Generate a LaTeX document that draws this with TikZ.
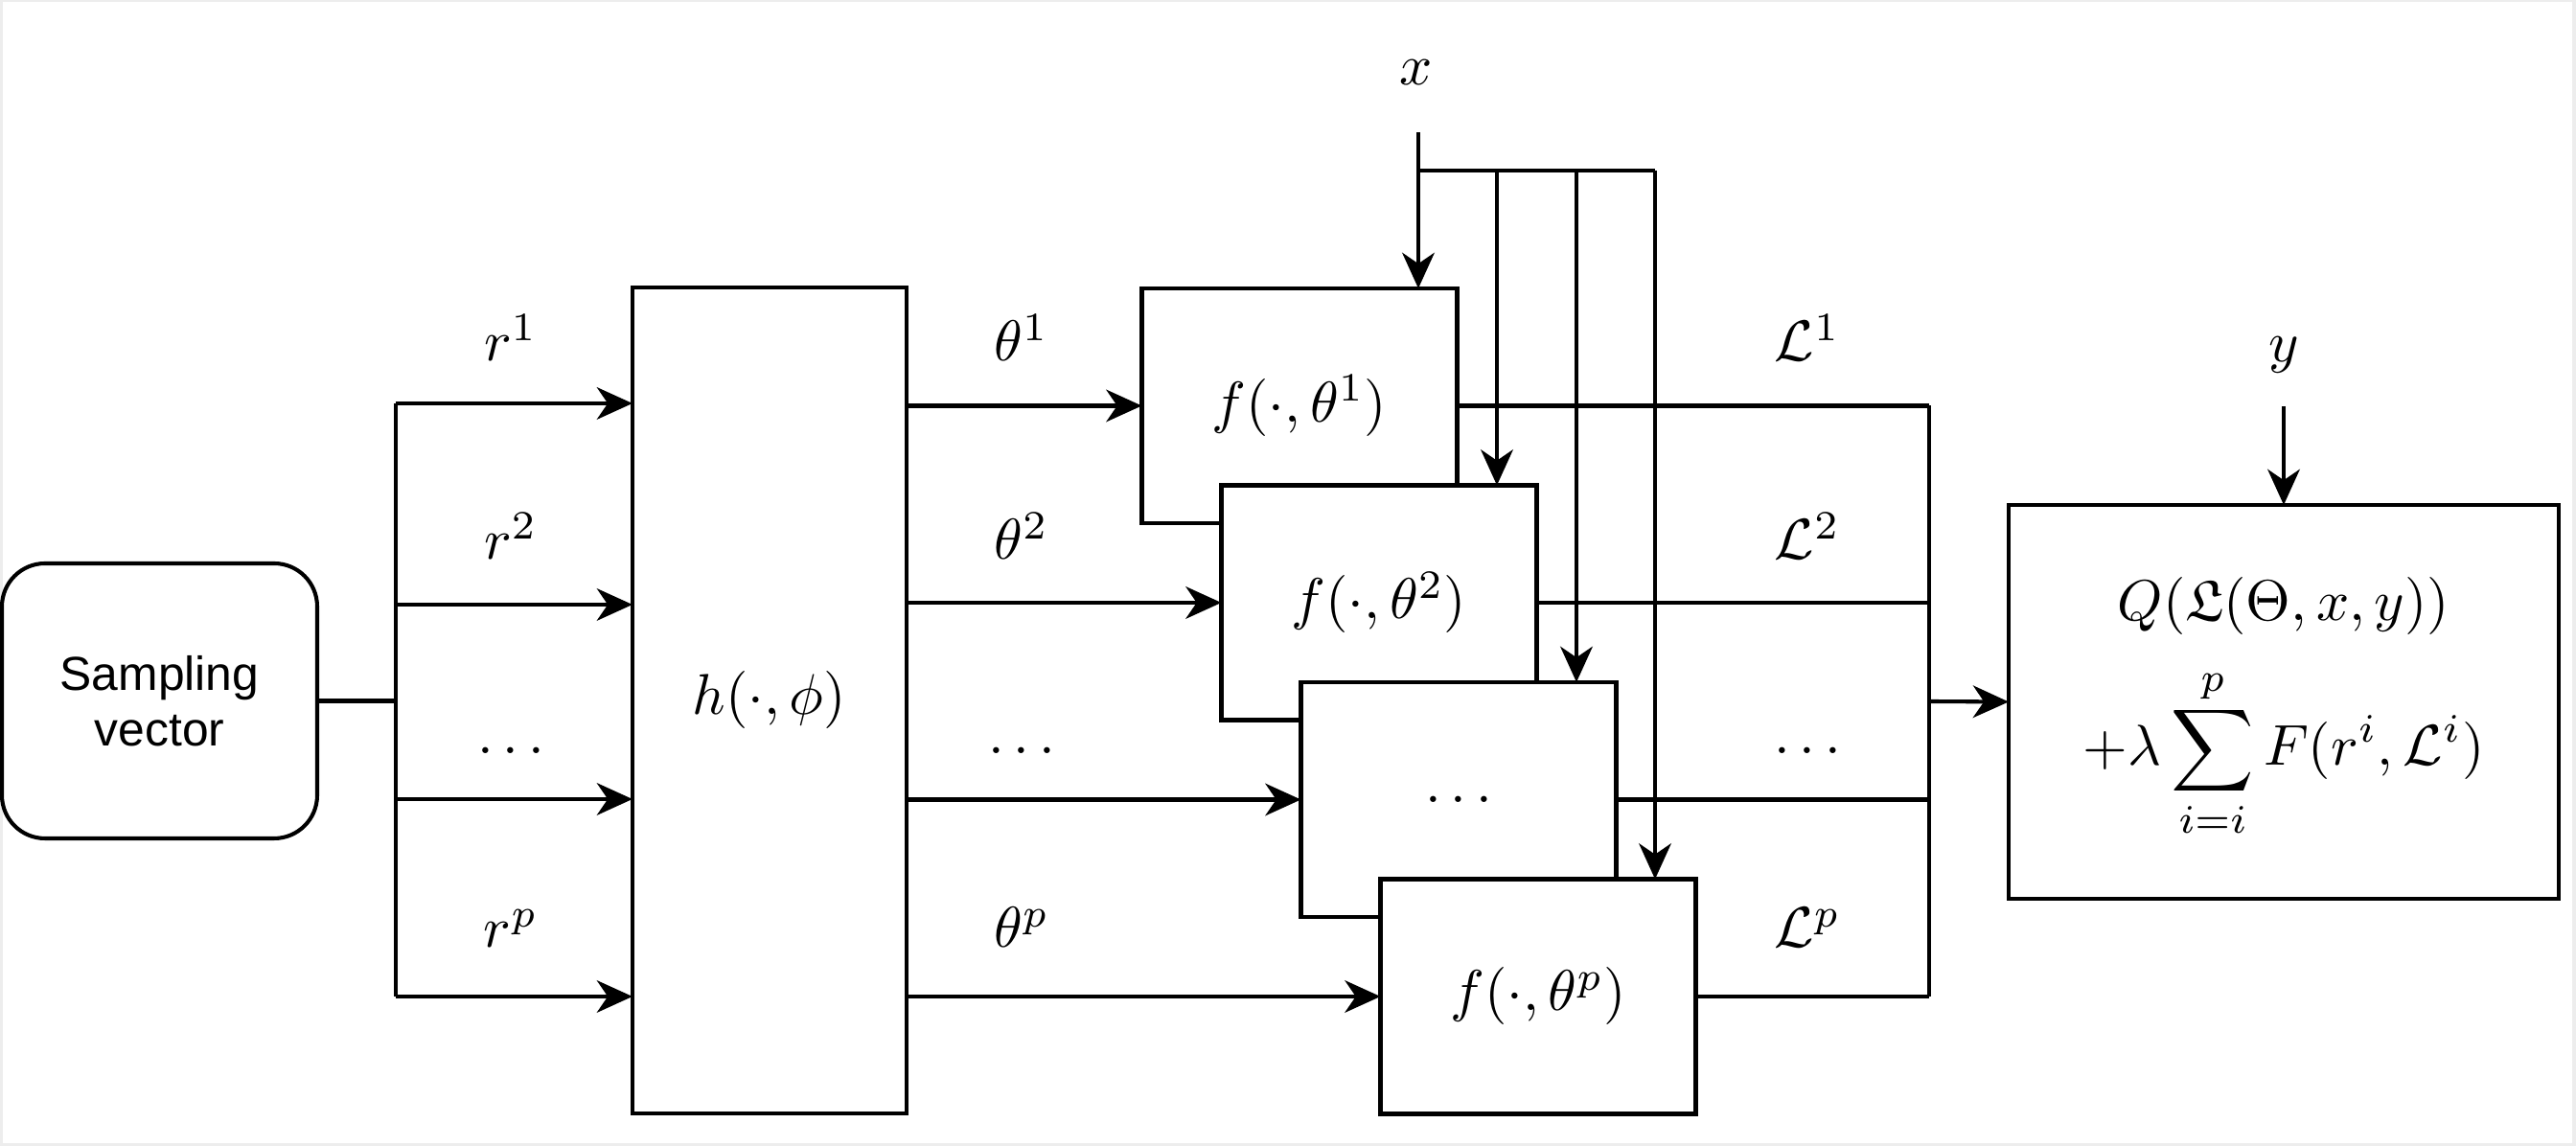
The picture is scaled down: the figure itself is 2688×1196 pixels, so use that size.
\documentclass[tikz,border=0pt]{standalone}
\usepackage{amsmath,amssymb}
\usepackage{fontspec}
\newfontfamily\sampfont{Liberation Sans}
\usetikzlibrary{arrows.meta}
\begin{document}
\begin{tikzpicture}[x=0.16667pt,y=-0.16667pt,
  line width=0.68pt,
  box/.style={draw,fill=white,line width=0.68pt,inner sep=0pt,outer sep=0pt},
  fbox/.style={box,minimum width=329*0.16667pt,minimum height=245*0.16667pt},
  arr/.style={-{Stealth[length=6.2pt,width=5.6pt,inset=1.9pt]}},
  lab/.style={anchor=base,inner sep=0pt,outer sep=0pt}]
% background frame
\fill[black!7] (0,0) rectangle (2688,1196);
\fill[white] (3,2) rectangle (2684,1193);
\useasboundingbox (0,0) rectangle (2688,1196);

% Sampling vector
\node[box,rounded corners=7.5pt,minimum width=329*0.16667pt,minimum height=287*0.16667pt,
  align=center,font=\sampfont\fontsize{8.3}{9.7}\selectfont] (samp) at (166.5,731.5) {Sampling\\vector};

% h box
\node[box,minimum width=286*0.16667pt,minimum height=862*0.16667pt] (h) at (803,731) {$h(\cdot,\phi)$};

% f boxes
\node[fbox] (f1) at (1356,423.5) {$f(\cdot,\theta^1)$};
\node[fbox] (f2) at (1439,629) {$f(\cdot,\theta^2)$};
\node[fbox] (f3) at (1522,834.5) {$\ldots$};
\node[fbox] (fp) at (1605,1040) {$f(\cdot,\theta^p)$};

% Q box
\node[box,minimum width=574*0.16667pt,minimum height=411*0.16667pt] (Q) at (2383,732.5) {};
\node[lab] (q1) at (2383,648) {$Q(\mathfrak{L}(\Theta,x,y))$};
\node[lab] (q2) at (2383,799) {$+\lambda\displaystyle\sum_{i=i}^{p}F(r^i,\mathcal{L}^i)$};

% coordinates
\coordinate (rb1) at (413,421);
\coordinate (rb2) at (413,631);
\coordinate (rb3) at (413,834);
\coordinate (rb4) at (413,1040);
\coordinate (ob) at (2013,732);
\coordinate (xt) at (1480,138);
\coordinate (xa) at (1562,178);
\coordinate (xb) at (1645,178);
\coordinate (xc) at (1727,178);
\coordinate (yt) at (2383,424);

% sampling to bus
\draw (samp.east) -- (samp.east -| rb1);
\draw (rb1) -- (rb4);
\draw[arr] (rb1) -- (rb1 -| h.west);
\draw[arr] (rb2) -- (rb2 -| h.west);
\draw[arr] (rb3) -- (rb3 -| h.west);
\draw[arr] (rb4) -- (rb4 -| h.west);

% h to f
\draw[arr] (f1.west -| h.east) -- (f1.west);
\draw[arr] (f2.west -| h.east) -- (f2.west);
\draw[arr] (f3.west -| h.east) -- (f3.west);
\draw[arr] (fp.west -| h.east) -- (fp.west);

% outputs
\draw (f1.east) -- (f1.east -| ob);
\draw (f2.east) -- (f2.east -| ob);
\draw (f3.east) -- (f3.east -| ob);
\draw (fp.east) -- (fp.east -| ob);
\draw (f1.east -| ob) -- (fp.east -| ob);
\draw[arr] (ob) -- (Q.west);

% x input
\draw[arr] (xt) -- (xt |- f1.north);
\draw (xt |- xc) -- (xc);
\draw[arr] (xa) -- (xa |- f2.north);
\draw[arr] (xb) -- (xb |- f3.north);
\draw[arr] (xc) -- (xc |- fp.north);
\node[lab] (xl) at (1478,89) {$x$};

% y input
\draw[arr] (yt) -- (Q.north);
\node[lab] (yl) at (2383,378) {$y$};

% labels
\node[lab] (r1) at (533,377) {$r^1$};
\node[lab] (r2) at (533,584) {$r^2$};
\node[lab] (r3) at (533,787) {$\ldots$};
\node[lab] (r4) at (533,989) {$r^p$};
\node[lab] (t1) at (1066,377) {$\theta^1$};
\node[lab] (t2) at (1066,584) {$\theta^2$};
\node[lab] (t3) at (1066,787) {$\ldots$};
\node[lab] (t4) at (1066,989) {$\theta^p$};
\node[lab] (l1) at (1886,377) {$\mathcal{L}^1$};
\node[lab] (l2) at (1886,584) {$\mathcal{L}^2$};
\node[lab] (l3) at (1886,787) {$\ldots$};
\node[lab] (l4) at (1886,989) {$\mathcal{L}^p$};
\end{tikzpicture}
\end{document}
